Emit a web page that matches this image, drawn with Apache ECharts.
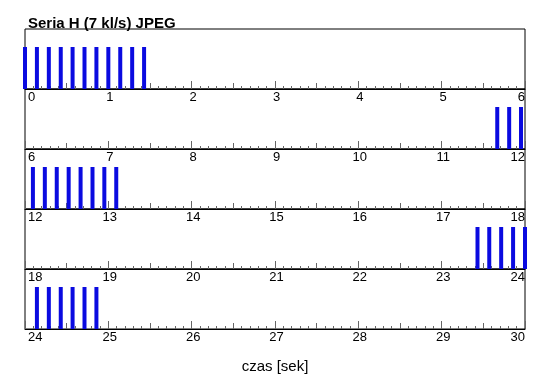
<!DOCTYPE html>
<html><head><meta charset="utf-8">
<script src="https://cdn.jsdelivr.net/npm/echarts@6/dist/echarts.min.js"></script>
<style>html,body{margin:0;padding:0;background:#fff}#c{width:550px;height:389px}</style>
</head><body><div id="c"></div>
<script>
const titleText = 'Seria H (7 kl/s) JPEG';
const xName = 'czas [sek]';
const stripRanges = [[0, 6], [6, 12], [12, 18], [18, 24], [24, 30]];
const strip1Frames = [0, 0.143, 0.286, 0.429, 0.571, 0.714, 0.857, 1.0, 1.143, 1.286, 1.429];
const strip2Frames = [11.667, 11.81, 11.952];
const strip3Frames = [12.095, 12.238, 12.381, 12.524, 12.667, 12.81, 12.952, 13.095];
const strip4Frames = [23.43, 23.571, 23.714, 23.857, 24.0];
const strip5Frames = [24.143, 24.286, 24.429, 24.571, 24.714, 24.857];
const stripFrames = [strip1Frames, strip2Frames, strip3Frames, strip4Frames, strip5Frames];
const barLevel = 0.7;

const chart = echarts.init(document.getElementById('c'));
const grids = [], xAxes = [], yAxes = [], series = [];
const FONT = '"Liberation Sans", Arial, Helvetica, sans-serif';
stripRanges.forEach((r, i) => {
  grids.push({left: 25, right: 25, top: 29 + i * 60, height: 60, show: true,
    borderColor: '#000', borderWidth: 1, backgroundColor: 'transparent'});
  xAxes.push({type: 'value', gridIndex: i, min: r[0], max: r[1], interval: 1,
    axisLine: {show: true, onZero: false, lineStyle: {color: '#000', width: 1}},
    axisTick: {show: true, inside: true, length: 8, lineStyle: {color: '#666'}},
    minorTick: {show: true, splitNumber: 10, length: 3, lineStyle: {color: '#666'}},
    splitLine: {show: false},
    axisLabel: {show: true, color: '#000', fontSize: 13, fontFamily: FONT, margin: 2,
      padding: [0, 0, 0, 3],
      alignMinLabel: 'left', alignMaxLabel: 'right', showMinLabel: true, showMaxLabel: true}
  });
  xAxes.push({type: 'value', gridIndex: i, min: r[0], max: r[1], interval: 0.5, position: 'bottom',
    axisLine: {show: false}, axisLabel: {show: false}, splitLine: {show: false},
    axisTick: {show: true, inside: true, length: 6, lineStyle: {color: '#666'}}
  });
  yAxes.push({type: 'value', gridIndex: i, min: 0, max: 1, show: false});
  series.push({
    type: 'custom', xAxisIndex: i * 2, yAxisIndex: i, clip: false,
    data: stripFrames[i].map(t => [t, barLevel]),
    renderItem: (params, api) => {
      const p0 = api.coord([api.value(0), 0]);
      const p1 = api.coord([api.value(0), api.value(1)]);
      return {type: 'rect', shape: {x: p0[0] - 2, y: p1[1], width: 4, height: p0[1] - p1[1]},
        style: {fill: '#0a0ae0'}};
    }
  });
});

chart.setOption({
  animation: false,
  title: [
    {text: titleText, left: 23, top: 11, textStyle: {fontSize: 15, fontWeight: 'bold', color: '#000', fontFamily: FONT}},
    {text: xName, left: 'center', top: 354, textStyle: {fontSize: 15, fontWeight: 'normal', color: '#000', fontFamily: FONT}}
  ],
  grid: grids, xAxis: xAxes, yAxis: yAxes, series: series
});
</script></body></html>
